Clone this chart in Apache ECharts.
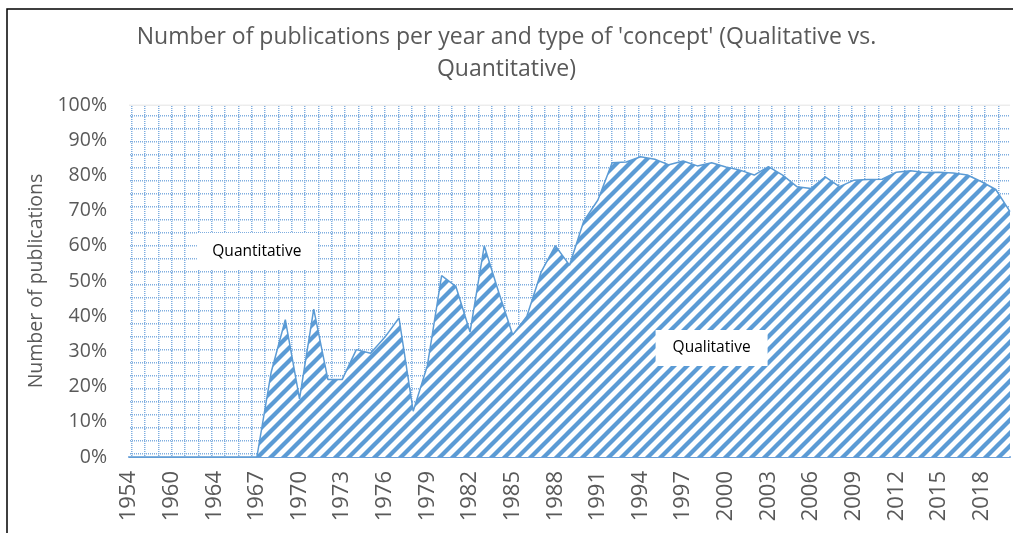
<!DOCTYPE html>
<html><head><meta charset="utf-8">
<script src="https://cdn.jsdelivr.net/npm/echarts@6/dist/echarts.min.js"></script>
<style>html,body{margin:0;padding:0;background:#fff}#c{width:1013px;height:533px}</style>
</head><body><div id="c"></div>
<script>
const years = ['1954','1956','1958','1960','1961','1963','1964','1965','1966',
  '1967','1968','1969','1970','1971','1972','1973','1974','1975','1976','1977','1978','1979',
  '1980','1981','1982','1983','1984','1985','1986','1987','1988','1989','1990','1991','1992',
  '1993','1994','1995','1996','1997','1998','1999','2000','2001','2002','2003','2004','2005',
  '2006','2007','2008','2009','2010','2011','2012','2013','2014','2015','2016','2017','2018',
  '2019','2020'];
const qualitative = [0,0,0,0,0,0,0,0,0,
  0,24,39,16.5,42,22,22,30.5,29.5,34,39.5,13,26,
  51.5,48.5,35.5,60,47,34.7,40,52.5,60,54.5,67,73,83.6,
  83.8,85.3,84.6,83,84.1,82.7,83.6,82.4,81.5,80.1,82.5,80.1,76.8,
  76.3,79.6,76.8,78.6,78.8,78.9,80.9,81.3,80.8,80.9,80.7,80.1,78.2,
  76,69.7];
const quantitative = [100,100,100,100,100,100,100,100,100,
  100,76,61,83.5,58,78,78,69.5,70.5,66,60.5,87,74,
  48.5,51.5,64.5,40,53,65.3,60,47.5,40,45.5,33,27,16.4,
  16.2,14.7,15.4,17,15.9,17.3,16.4,17.6,18.5,19.9,17.5,19.9,23.2,
  23.7,20.4,23.2,21.4,21.2,21.1,19.1,18.7,19.2,19.1,19.3,19.9,21.8,
  24,30.3];
const titleText = "Number of publications per year and type of 'concept' (Qualitative vs.\nQuantitative)";
const yAxisName = 'Number of publications';
const labelQuant = {text: 'Quantitative', year: '1967', value: 58.4};
const labelQual = {text: 'Qualitative', year: '1999', value: 31};

function gridPattern() {
  const c = document.createElement('canvas');
  c.width = 40; c.height = 39;
  const g = c.getContext('2d');
  g.fillStyle = '#ffffff'; g.fillRect(0,0,40,39);
  g.fillStyle = '#7FAEE0';
  const vx = [11, 24, 38], hy = [11, 24, 37];
  for (const x of vx) for (let y = 0; y < 39; y += 2) g.fillRect(x, y, 1.5, 1);
  for (const y of hy) for (let x = 0; x < 40; x += 2) g.fillRect(x, y, 1, 1.5);
  return c;
}
function hatchPattern() {
  const s = 13;
  const c = document.createElement('canvas');
  c.width = s; c.height = s;
  const g = c.getContext('2d');
  g.fillStyle = '#ffffff'; g.fillRect(0,0,s,s);
  g.strokeStyle = '#5B9BD5'; g.lineWidth = 4.3;
  for (let k = -1; k <= 1; k++) {
    g.beginPath(); g.moveTo(k*s - 2, s + 2); g.lineTo(k*s + s + 2, -2); g.stroke();
  }
  return c;
}

const chart = echarts.init(document.getElementById('c'));
const txt = '#595959';
chart.setOption({
  animation: false,
  backgroundColor: '#fff',
  title: {
    text: titleText, left: 'center', top: 16,
    textStyle: {fontFamily: 'Open Sans', fontSize: 23, fontWeight: 'normal', color: txt, lineHeight: 32}
  },
  grid: {left: 129, right: 3, top: 105, bottom: 76, containLabel: false},
  xAxis: {
    type: 'category', data: years, boundaryGap: false,
    axisLine: {lineStyle: {color: '#6A9FD8', width: 2}},
    axisTick: {show: false},
    axisLabel: {interval: 2, rotate: 90, margin: 14, color: txt, fontFamily: 'Open Sans', fontSize: 22},
    splitLine: {show: false}
  },
  yAxis: {
    type: 'value', min: 0, max: 100, interval: 10,
    name: yAxisName, nameLocation: 'middle', nameGap: 80,
    nameTextStyle: {color: txt, fontFamily: 'Open Sans', fontSize: 19.5},
    axisLine: {show: false}, axisTick: {show: false},
    axisLabel: {formatter: '{value}%', color: txt, fontFamily: 'Open Sans', fontSize: 19.5, margin: 22},
    splitLine: {show: false}
  },
  series: [
    {
      name: 'Qualitative', type: 'line', stack: 'all', data: qualitative,
      showSymbol: false, z: 3,
      lineStyle: {color: '#5B9BD5', width: 1.5},
      areaStyle: {color: {image: hatchPattern(), repeat: 'repeat'}, opacity: 1},
      markPoint: {
        silent: true, symbol: 'rect',
        label: {show: true, position: 'inside', color: '#000', fontFamily: 'Open Sans', fontSize: 15.5},
        itemStyle: {color: '#ffffff'},
        data: [
          {coord: [labelQuant.year, labelQuant.value], symbolSize: [120, 37], label: {formatter: labelQuant.text}},
          {coord: [labelQual.year, labelQual.value], symbolSize: [112, 36], label: {formatter: labelQual.text}}
        ]
      }
    },
    {
      name: 'Quantitative', type: 'line', stack: 'all', data: quantitative,
      showSymbol: false, z: 2,
      lineStyle: {color: '#D9D9D9', width: 1},
      areaStyle: {color: {image: gridPattern(), repeat: 'repeat'}, opacity: 1}
    }
  ],
  graphic: [{
    type: 'rect', z: 100, silent: true,
    shape: {x: 7, y: 9, width: 1030, height: 560},
    style: {fill: 'none', stroke: '#000', lineWidth: 1.5}
  }]
});
</script></body></html>
